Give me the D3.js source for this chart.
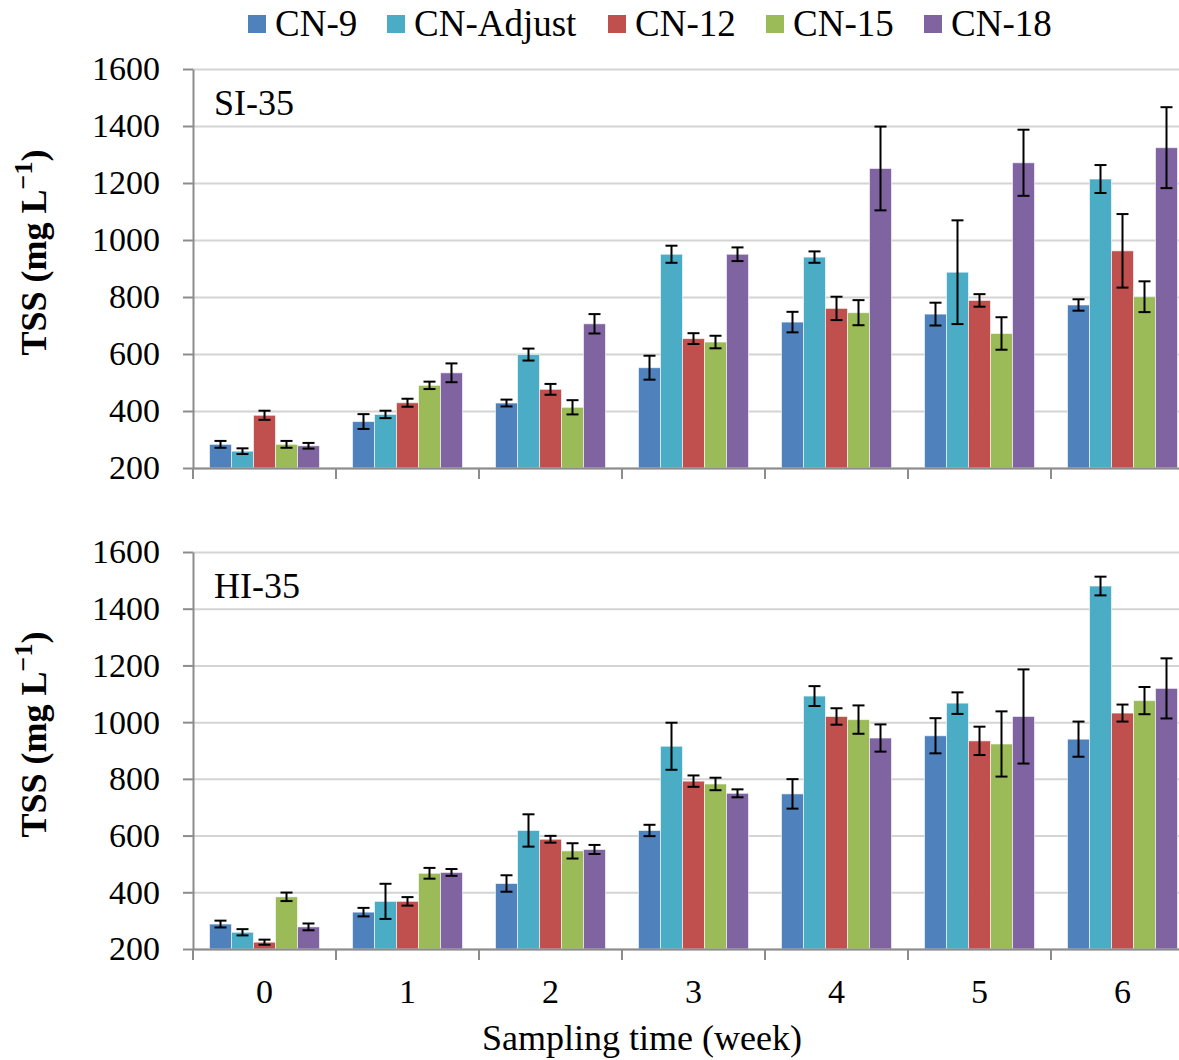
<!DOCTYPE html>
<html lang="en">
<head>
<meta charset="UTF-8">
<title>TSS</title>
<script src="https://cdn.jsdelivr.net/npm/d3@7"></script>
<style>
  body { margin: 0; background: #fff; }
  text { font-family: "Liberation Serif", "Times New Roman", serif; fill: #000; }
  .axis path, .axis line { stroke: #8c8c8c; stroke-width: 2; }
  .grid line { stroke: #d4d4d4; stroke-width: 2; }
  .grid path { display: none; }
</style>
</head>
<body>
<script>
// categories and series
const weeks = ["0", "1", "2", "3", "4", "5", "6"];
const series = ["CN-9", "CN-Adjust", "CN-12", "CN-15", "CN-18"];
const colors = ["#4f81bd", "#4bacc6", "#c0504d", "#9bbb59", "#8064a2"];
const yTicks = [200, 400, 600, 800, 1000, 1200, 1400, 1600];

// SI-35 means and error bars (per series, weeks 0..6)
const si9 = [283, 363, 428, 552, 712, 740, 772];
const siAdj = [259, 388, 598, 950, 940, 887, 1214];
const si12 = [385, 429, 476, 654, 760, 788, 962];
const si15 = [283, 490, 413, 642, 745, 672, 801];
const si18 = [278, 534, 706, 950, 1251, 1271, 1324];
const si9Err = [12, 26, 12, 42, 36, 40, 20];
const siAdjErr = [10, 13, 21, 30, 20, 182, 49];
const si12Err = [16, 14, 19, 19, 41, 22, 129];
const si15Err = [12, 13, 25, 22, 44, 57, 54];
const si18Err = [10, 33, 34, 24, 147, 116, 142];

// HI-35
const hi9 = [288, 330, 431, 618, 747, 952, 940];
const hiAdj = [259, 368, 618, 915, 1092, 1067, 1480];
const hi12 = [224, 368, 587, 792, 1020, 934, 1032];
const hi15 = [384, 467, 546, 782, 1009, 923, 1076];
const hi18 = [278, 470, 551, 749, 944, 1020, 1119];
const hi9Err = [12, 15, 29, 20, 52, 62, 62];
const hiAdjErr = [11, 62, 57, 83, 35, 38, 33];
const hi12Err = [9, 15, 12, 20, 29, 50, 30];
const hi15Err = [15, 19, 27, 22, 50, 115, 48];
const hi18Err = [12, 12, 16, 14, 48, 166, 106];

const panels = [
  { label: "SI-35", top: 69, bottom: 468,
    means: [si9, siAdj, si12, si15, si18],
    errs: [si9Err, siAdjErr, si12Err, si15Err, si18Err] },
  { label: "HI-35", top: 552, bottom: 949,
    means: [hi9, hiAdj, hi12, hi15, hi18],
    errs: [hi9Err, hiAdjErr, hi12Err, hi15Err, hi18Err] }
];

const W = 1179, H = 1060;
const left = 193, right = 1194;
const serif = '"Liberation Serif", "Times New Roman", serif';

const svg = d3.select("body").append("svg")
  .attr("width", W).attr("height", H);

const x0 = d3.scaleBand().domain(weeks).range([left, right]);
const gap = 16.5;
const x1 = d3.scaleBand().domain(series).range([gap, x0.bandwidth() - gap]);

panels.forEach(p => {
  const y = d3.scaleLinear().domain([200, 1600]).range([p.bottom, p.top]);
  const g = svg.append("g");

  // gridlines
  g.append("g").attr("class", "grid")
    .attr("transform", `translate(${left},0)`)
    .call(d3.axisLeft(y).tickValues(yTicks).tickSize(-(right - left)).tickFormat(""));

  // bars
  const rows = [];
  weeks.forEach((w, i) => series.forEach((s, j) => {
    rows.push({ w, s, j, v: p.means[j][i], e: p.errs[j][i] });
  }));

  g.selectAll("rect.bar").data(rows).enter().append("rect")
    .attr("class", "bar")
    .attr("x", d => x0(d.w) + x1(d.s))
    .attr("y", d => y(d.v))
    .attr("width", x1.bandwidth())
    .attr("height", d => y(200) - y(d.v))
    .attr("fill", d => colors[d.j])
    .attr("stroke", "#fff").attr("stroke-opacity", 0.6).attr("stroke-width", 1);

  // error bars
  const eb = g.selectAll("g.err").data(rows).enter().append("g")
    .attr("class", "err")
    .attr("transform", d => `translate(${x0(d.w) + x1(d.s) + x1.bandwidth() / 2},0)`);
  eb.append("line").attr("y1", d => y(d.v - d.e)).attr("y2", d => y(d.v + d.e))
    .attr("stroke", "#000").attr("stroke-width", 2);
  eb.append("line").attr("x1", -6).attr("x2", 6)
    .attr("y1", d => y(d.v + d.e)).attr("y2", d => y(d.v + d.e))
    .attr("stroke", "#000").attr("stroke-width", 2);
  eb.append("line").attr("x1", -6).attr("x2", 6)
    .attr("y1", d => y(d.v - d.e)).attr("y2", d => y(d.v - d.e))
    .attr("stroke", "#000").attr("stroke-width", 2);

  // y axis
  const ya = g.append("g").attr("class", "axis")
    .attr("transform", `translate(${left},0)`)
    .call(d3.axisLeft(y).tickValues(yTicks).tickFormat(d3.format("d"))
      .tickSize(10).tickPadding(23).tickSizeOuter(0));
  ya.attr("font-family", serif);
  ya.selectAll("text").style("font-size", "34px").style("font-family", serif);

  // x axis (category boundary ticks)
  const xa = g.append("g").attr("class", "axis")
    .attr("transform", `translate(0,${p.bottom})`)
    .call(d3.axisBottom(x0).tickSize(0).tickFormat(""));
  xa.selectAll(".bnd").data(weeks).enter().append("line")
    .attr("class", "bnd")
    .attr("x1", d => x0(d)).attr("x2", d => x0(d))
    .attr("y1", 0).attr("y2", 11);

  // panel label
  g.append("text").attr("x", 214).attr("y", p.top + 46)
    .style("font-size", "36px").text(p.label);

  // y title
  const t = g.append("text")
    .attr("transform", `translate(46,${(p.top + p.bottom) / 2 - 16}) rotate(-90)`)
    .attr("text-anchor", "middle")
    .style("font-size", "36px").style("font-weight", "bold");
  t.append("tspan").text("TSS (mg L");
  t.append("tspan").attr("dy", -14).style("font-size", "26px").text("\u22121");
  t.append("tspan").attr("dy", 14).text(")");
});

// x tick labels (bottom panel only)
const xl = svg.append("g").attr("class", "axis xlab")
  .attr("transform", "translate(0,949)")
  .call(d3.axisBottom(x0).tickSize(0).tickPadding(30));
xl.attr("font-family", serif);
xl.select(".domain").remove();
xl.selectAll("text").style("font-size", "34px").style("font-family", serif);

svg.append("text").attr("x", 642).attr("y", 1050)
  .attr("text-anchor", "middle").style("font-size", "36px")
  .text("Sampling time (week)");

// legend
const legX = [248, 387, 608, 766, 924];
const leg = svg.append("g").selectAll("g").data(series).enter().append("g")
  .attr("transform", (d, i) => `translate(${legX[i]},0)`);
leg.append("rect").attr("x", 0).attr("y", 15).attr("width", 18).attr("height", 18)
  .attr("fill", (d, i) => colors[i]);
leg.append("text").attr("x", 27).attr("y", 36).style("font-size", "37px").text(d => d);
</script>
</body>
</html>
